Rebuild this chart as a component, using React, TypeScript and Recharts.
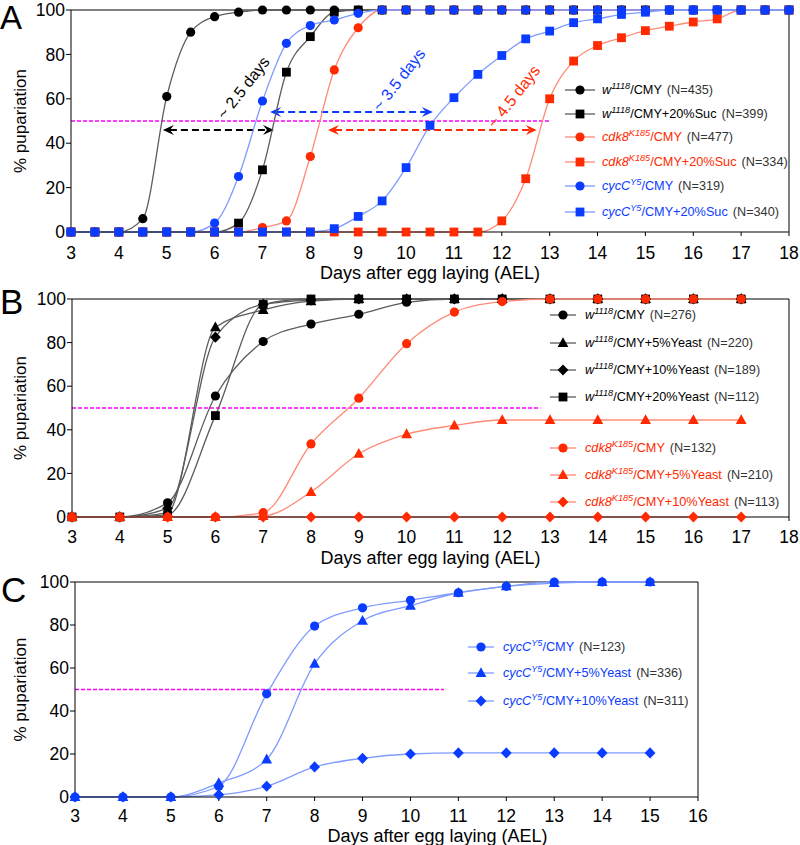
import React from 'react';
import { LineChart, Line, XAxis, YAxis, ReferenceLine, ReferenceDot, Legend } from 'recharts';

const FONT = '"Liberation Sans", Arial, Helvetica, sans-serif';
const BLACK = '#000000';
const RED = '#ff2a00';
const BLUE = '#0a3cff';
const GRAY_LINE = '#5c5c5c';
const RED_LINE = '#ff8a78';
const BLUE_LINE = '#7f9bff';
const MAGENTA = '#ff00ff';

// ---- Panel A: sucrose (half-day sampling)
const daysA = [3, 3.5, 4, 4.5, 5, 5.5, 6, 6.5, 7, 7.5, 8, 8.5, 9, 9.5, 10, 10.5, 11, 11.5, 12, 12.5, 13, 13.5, 14, 14.5, 15, 15.5, 16, 16.5, 17, 17.5, 18];
const w1118CmyA = [0, 0, 0, 6, 61, 90, 97, 99, 100, 100, 100, 100, 100, 100, 100, 100, 100, 100, 100, 100, 100, 100, 100, 100, 100, 100, 100, 100, 100, 100, 100];
const w1118SucA = [0, 0, 0, 0, 0, 0, 0, 4, 28, 72, 88, 99, 100, 100, 100, 100, 100, 100, 100, 100, 100, 100, 100, 100, 100, 100, 100, 100, 100, 100, 100];
const cdk8CmyA = [0, 0, 0, 0, 0, 0, 0, 0, 2, 5, 34, 73, 92, 100, 100, 100, 100, 100, 100, 100, 100, 100, 100, 100, 100, 100, 100, 100, 100, 100, 100];
const cdk8SucA = [0, 0, 0, 0, 0, 0, 0, 0, 0, 0, 0, 0, 0, 0, 0, 0, 0, 0, 5, 24, 60, 77, 84, 87.5, 90.7, 92.7, 94.6, 96, 100, 100, 100];
const cycCCmyA = [0, 0, 0, 0, 0, 0, 4, 25, 59, 85, 93, 95.5, 98.5, 100, 100, 100, 100, 100, 100, 100, 100, 100, 100, 100, 100, 100, 100, 100, 100, 100, 100];
const cycCSucA = [0, 0, 0, 0, 0, 0, 0, 0, 0, 0, 0, 1.5, 7, 14, 29, 48, 60.5, 71, 79.5, 87, 90.5, 94.3, 96, 98, 99, 100, 100, 100, 100, 100, 100];
const ticksA = [3, 4, 5, 6, 7, 8, 9, 10, 11, 12, 13, 14, 15, 16, 17, 18];

// ---- Panel B: yeast, w1118 vs cdk8
const daysB = [3, 4, 5, 6, 7, 8, 9, 10, 11, 12, 13, 14, 15, 16, 17];
const w1118CmyB = [0, 0, 6.5, 55.5, 80.5, 88.5, 93, 98.5, 100, 100, 100, 100, 100, 100, 100];
const w1118Y5B = [0, 0, 2, 87, 95, 99, 100, 100, 100, 100, 100, 100, 100, 100, 100];
const w1118Y10B = [0, 0, 4, 82.5, 97.5, 99.5, 100, 100, 100, 100, 100, 100, 100, 100, 100];
const w1118Y20B = [0, 0, 1, 46.5, 97.5, 100, 100, 100, 100, 100, 100, 100, 100, 100, 100];
const cdk8CmyB = [0, 0, 0, 0, 2, 33.5, 54.5, 79.5, 94, 98.8, 100, 100, 100, 100, 100];
const cdk8Y5B = [0, 0, 0, 0, 0.5, 11.5, 29, 38, 42, 44.5, 44.5, 44.5, 44.5, 44.5, 44.5];
const cdk8Y10B = [0, 0, 0, 0, 0, 0, 0, 0, 0, 0, 0, 0, 0, 0, 0];
const ticksB = [3, 4, 5, 6, 7, 8, 9, 10, 11, 12, 13, 14, 15, 16, 17, 18];

// ---- Panel C: yeast, cycC
const daysC = [3, 4, 5, 6, 7, 8, 9, 10, 11, 12, 13, 14, 15];
const cycCCmyC = [0, 0, 0, 5, 48, 79.5, 88, 91.5, 95, 98, 100, 100, 100];
const cycCY5C = [0, 0, 0, 6.5, 17.5, 62, 82, 89, 95, 98, 99.5, 100, 100];
const cycCY10C = [0, 0, 0, 1, 5, 14, 18, 20, 20.5, 20.5, 20.5, 20.5, 20.5];
const ticksC = [3, 4, 5, 6, 7, 8, 9, 10, 11, 12, 13, 14, 15, 16];

const yTicks = [0, 20, 40, 60, 80, 100];

type Shape = 'circle' | 'square' | 'triangle' | 'diamond';
type Series = {
  key: string;
  values: number[];
  shape: Shape;
  color: string;
  line: string;
  gene: string;
  sup: string;
  rest: string;
  n: string;
};

const buildRows = (days: number[], series: Series[]) =>
  days.map((d, i) => {
    const row: any = { day: d };
    series.forEach((s) => (row[s.key] = s.values[i]));
    return row;
  });

const seriesA: Series[] = [
  { key: 'wCmy', values: w1118CmyA, shape: 'circle', color: BLACK, line: GRAY_LINE, gene: 'w', sup: '1118', rest: '/CMY', n: '(N=435)' },
  { key: 'wSuc', values: w1118SucA, shape: 'square', color: BLACK, line: GRAY_LINE, gene: 'w', sup: '1118', rest: '/CMY+20%Suc', n: '(N=399)' },
  { key: 'cdkCmy', values: cdk8CmyA, shape: 'circle', color: RED, line: RED_LINE, gene: 'cdk8', sup: 'K185', rest: '/CMY', n: '(N=477)' },
  { key: 'cdkSuc', values: cdk8SucA, shape: 'square', color: RED, line: RED_LINE, gene: 'cdk8', sup: 'K185', rest: '/CMY+20%Suc', n: '(N=334)' },
  { key: 'cycCmy', values: cycCCmyA, shape: 'circle', color: BLUE, line: BLUE_LINE, gene: 'cycC', sup: 'Y5', rest: '/CMY', n: '(N=319)' },
  { key: 'cycSuc', values: cycCSucA, shape: 'square', color: BLUE, line: BLUE_LINE, gene: 'cycC', sup: 'Y5', rest: '/CMY+20%Suc', n: '(N=340)' },
];

const seriesB: Series[] = [
  { key: 'wCmy', values: w1118CmyB, shape: 'circle', color: BLACK, line: GRAY_LINE, gene: 'w', sup: '1118', rest: '/CMY', n: '(N=276)' },
  { key: 'wY5', values: w1118Y5B, shape: 'triangle', color: BLACK, line: GRAY_LINE, gene: 'w', sup: '1118', rest: '/CMY+5%Yeast', n: '(N=220)' },
  { key: 'wY10', values: w1118Y10B, shape: 'diamond', color: BLACK, line: GRAY_LINE, gene: 'w', sup: '1118', rest: '/CMY+10%Yeast', n: '(N=189)' },
  { key: 'wY20', values: w1118Y20B, shape: 'square', color: BLACK, line: GRAY_LINE, gene: 'w', sup: '1118', rest: '/CMY+20%Yeast', n: '(N=112)' },
  { key: 'cdkCmy', values: cdk8CmyB, shape: 'circle', color: RED, line: RED_LINE, gene: 'cdk8', sup: 'K185', rest: '/CMY', n: '(N=132)' },
  { key: 'cdkY5', values: cdk8Y5B, shape: 'triangle', color: RED, line: RED_LINE, gene: 'cdk8', sup: 'K185', rest: '/CMY+5%Yeast', n: '(N=210)' },
  { key: 'cdkY10', values: cdk8Y10B, shape: 'diamond', color: RED, line: RED_LINE, gene: 'cdk8', sup: 'K185', rest: '/CMY+10%Yeast', n: '(N=113)' },
];

const seriesC: Series[] = [
  { key: 'cycCmy', values: cycCCmyC, shape: 'circle', color: BLUE, line: BLUE_LINE, gene: 'cycC', sup: 'Y5', rest: '/CMY', n: '(N=123)' },
  { key: 'cycY5', values: cycCY5C, shape: 'triangle', color: BLUE, line: BLUE_LINE, gene: 'cycC', sup: 'Y5', rest: '/CMY+5%Yeast', n: '(N=336)' },
  { key: 'cycY10', values: cycCY10C, shape: 'diamond', color: BLUE, line: BLUE_LINE, gene: 'cycC', sup: 'Y5', rest: '/CMY+10%Yeast', n: '(N=311)' },
];

const Marker = ({ cx, cy, shape, color }: { cx?: number; cy?: number; shape: Shape; color: string }) => {
  if (cx == null || cy == null || isNaN(cx) || isNaN(cy)) return null;
  if (shape === 'circle') return <circle cx={cx} cy={cy} r={4.6} fill={color} />;
  if (shape === 'square') return <rect x={cx - 4.4} y={cy - 4.4} width={8.8} height={8.8} fill={color} />;
  if (shape === 'triangle')
    return <path d={`M${cx},${cy - 5.8} L${cx + 5.4},${cy + 4} L${cx - 5.4},${cy + 4} Z`} fill={color} />;
  return <path d={`M${cx},${cy - 5.6} L${cx + 5.4},${cy} L${cx},${cy + 5.6} L${cx - 5.4},${cy} Z`} fill={color} />;
};

// legend drawn as html so that the superscripts come out right
const makeLegend = (series: Series[], rowsY: number[], lineW: number, gap: number) => () => (
  <div style={{ position: 'relative', width: 260, height: 1 }}>
    {series.map((s, i) => (
      <div
        key={s.key}
        style={{
          position: 'absolute',
          left: 0,
          top: rowsY[i] - 10,
          height: 20,
          display: 'flex',
          alignItems: 'center',
          whiteSpace: 'nowrap',
          fontFamily: FONT,
          fontSize: 12.7,
        }}
      >
        <svg width={lineW} height={14} style={{ overflow: 'visible' }}>
          <line x1={0} y1={7} x2={lineW} y2={7} stroke={s.line} strokeWidth={1.3} />
          <Marker cx={lineW / 2} cy={7} shape={s.shape} color={s.color} />
        </svg>
        <span style={{ marginLeft: gap, color: s.color }}>
          <i>{s.gene}</i>
          <i style={{ fontSize: '0.72em', position: 'relative', top: '-0.5em' }}>{s.sup}</i>
          {s.rest}
        </span>
        <span style={{ marginLeft: 5, color: '#333' }}>{s.n}</span>
      </div>
    ))}
  </div>
);

const arrowShape = (color: string) => (p: any) => {
  const { x1, y1, x2, y2 } = p;
  const L = 11;
  const W = 5;
  const N = 7;
  return (
    <g>
      <line x1={x1 + N} y1={y1} x2={x2 - N} y2={y2} stroke={color} strokeWidth={2} strokeDasharray="7 4" />
      <path d={`M${x2},${y2} L${x2 - L},${y2 - W} L${x2 - N},${y2} L${x2 - L},${y2 + W} Z`} fill={color} />
      <path d={`M${x1},${y1} L${x1 + L},${y1 - W} L${x1 + N},${y1} L${x1 + L},${y1 + W} Z`} fill={color} />
    </g>
  );
};

const slantText = (text: string, color: string) => (p: any) => (
  <text
    x={p.cx}
    y={p.cy}
    transform={`rotate(-52 ${p.cx} ${p.cy})`}
    textAnchor="middle"
    dominantBaseline="central"
    fontSize={16}
    fill={color}
    fontFamily={FONT}
  >
    {text}
  </text>
);

type PanelProps = {
  days: number[];
  series: Series[];
  ticks: number[];
  height: number;
  margin: { top: number; right: number; left: number; bottom: number };
  yWidth: number;
  xHeight: number;
  tickMargin: number;
  titleOffset: number;
  titleDx: number;
  halfEnd: number;
  legendLeft: number;
  legendRows: number[];
  legendLineW: number;
  legendGap: number;
  children?: React.ReactNode;
};

const Panel = (p: PanelProps) => {
  const rows = buildRows(p.days, p.series);
  const xMin = p.ticks[0];
  const xMax = p.ticks[p.ticks.length - 1];
  const tickStyle = { fontSize: 17.5, fill: '#000', fontFamily: FONT };
  return (
    <LineChart width={800} height={p.height} data={rows} margin={p.margin}>
      <XAxis
        dataKey="day"
        type="number"
        domain={[xMin, xMax]}
        ticks={p.ticks}
        interval={0}
        height={p.xHeight}
        tick={tickStyle}
        tickSize={4}
        tickMargin={p.tickMargin}
        stroke="#000"
        label={{
          value: 'Days after egg laying (AEL)',
          position: 'insideBottom',
          offset: p.titleOffset,
          dx: p.titleDx,
          fontSize: 18,
          fill: '#000',
          fontFamily: FONT,
        }}
      />
      <YAxis
        type="number"
        domain={[0, 100]}
        ticks={yTicks}
        interval={0}
        width={p.yWidth}
        tick={tickStyle}
        tickSize={5}
        tickMargin={1}
        stroke="#000"
        label={{
          value: '% pupariation',
          angle: -90,
          position: 'insideLeft',
          offset: 20,
          fontSize: 17,
          fill: '#000',
          fontFamily: FONT,
          style: { textAnchor: 'middle' },
        }}
      />
      <ReferenceLine y={100} stroke="#000" strokeWidth={1} />
      <ReferenceLine x={xMax} stroke="#000" strokeWidth={1} />
      <ReferenceLine
        segment={[{ x: xMin, y: 50 }, { x: p.halfEnd, y: 50 }]}
        stroke={MAGENTA}
        strokeWidth={1.4}
        strokeDasharray="4 2"
      />
      {p.children}
      {p.series.map((s) => (
        <Line
          key={s.key}
          dataKey={s.key}
          type="monotone"
          stroke={s.line}
          strokeWidth={1.3}
          isAnimationActive={false}
          dot={(d: any) => <Marker key={`${s.key}-${d.index}`} cx={d.cx} cy={d.cy} shape={s.shape} color={s.color} />}
          activeDot={false}
        />
      ))}
      <Legend
        layout="vertical"
        align="center"
        verticalAlign="middle"
        wrapperStyle={{ left: p.legendLeft, top: 0, width: 260, height: 0 }}
        content={makeLegend(p.series, p.legendRows, p.legendLineW, p.legendGap)}
      />
    </LineChart>
  );
};

export default function App() {
  return (
    <div style={{ position: 'absolute', left: 0, top: 0, width: 800, height: 845, background: '#fff', fontFamily: FONT }}>
      <div style={{ position: 'absolute', left: 0, top: 0 }}>
        <Panel
          days={daysA}
          series={seriesA}
          ticks={ticksA}
          height={285}
          margin={{ top: 10, right: 11, left: 0, bottom: 0 }}
          yWidth={71}
          xHeight={53}
          tickMargin={11}
          titleOffset={6}
          titleDx={0}
          halfEnd={13}
          legendLeft={565}
          legendRows={[90, 114, 137, 162, 186, 212]}
          legendLineW={30}
          legendGap={7}
        >
          <ReferenceLine segment={[{ x: 4.92, y: 46 }, { x: 7.24, y: 46 }]} shape={arrowShape(BLACK)} />
          <ReferenceLine segment={[{ x: 7.16, y: 54 }, { x: 10.56, y: 54 }]} shape={arrowShape(BLUE)} />
          <ReferenceLine segment={[{ x: 8.37, y: 46 }, { x: 12.73, y: 46 }]} shape={arrowShape(RED)} />
          <ReferenceDot x={6.6} y={65} r={0} shape={slantText('~ 2.5 days', BLACK)} />
          <ReferenceDot x={9.85} y={68.6} r={0} shape={slantText('~ 3.5 days', BLUE)} />
          <ReferenceDot x={12.25} y={61} r={0} shape={slantText('~ 4.5 days', RED)} />
        </Panel>
      </div>
      <div style={{ position: 'absolute', left: 0, top: 285 }}>
        <Panel
          days={daysB}
          series={seriesB}
          ticks={ticksB}
          height={285}
          margin={{ top: 14, right: 11, left: 0, bottom: 0 }}
          yWidth={72}
          xHeight={53}
          tickMargin={10}
          titleOffset={6}
          titleDx={0}
          halfEnd={12.8}
          legendLeft={550}
          legendRows={[30, 58, 85, 112, 163, 190, 217]}
          legendLineW={26}
          legendGap={9}
        />
      </div>
      <div style={{ position: 'absolute', left: 0, top: 570 }}>
        <Panel
          days={daysC}
          series={seriesC}
          ticks={ticksC}
          height={275}
          margin={{ top: 12, right: 102, left: 0, bottom: 0 }}
          yWidth={75}
          xHeight={48}
          tickMargin={9}
          titleOffset={3}
          titleDx={51}
          halfEnd={10.7}
          legendLeft={468}
          legendRows={[77, 103, 131]}
          legendLineW={26}
          legendGap={9}
        />
      </div>
      <svg width={800} height={845} style={{ position: 'absolute', left: 0, top: 0, pointerEvents: 'none' }}>
        <text x={0} y={29} fontSize={33} fontFamily={FONT} fill="#000">A</text>
        <text x={0} y={314} fontSize={35} fontFamily={FONT} fill="#000">B</text>
        <text x={1} y={602} fontSize={35} fontFamily={FONT} fill="#000">C</text>
      </svg>
    </div>
  );
}
